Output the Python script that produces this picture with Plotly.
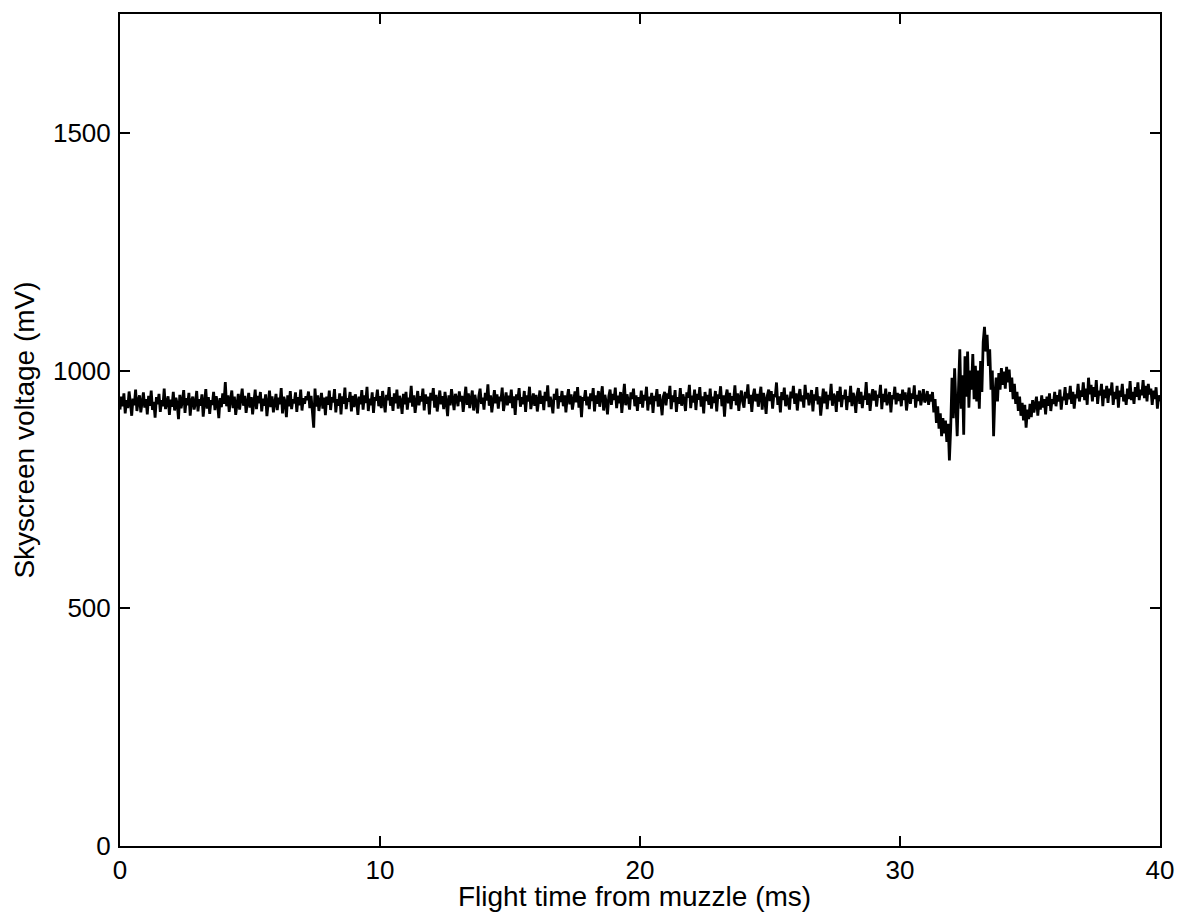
import plotly.graph_objects as go

# Sampling
t_start_ms = 0.0
dt_ms = 0.05

v_00_10 = [
    918, 945, 925, 952, 910, 938, 921, 956, 932, 905, 941, 927, 960, 915, 936, 948, 912, 930, 954, 922,
    940, 908, 947, 926, 958, 917, 934, 901, 944, 929, 951, 913, 938, 925, 962, 919, 933, 946, 907, 939,
    924, 955, 916, 943, 930, 898, 949, 921, 936, 959, 911, 942, 927, 953, 905, 937, 945, 918, 931, 957,
    914, 940, 926, 950, 903, 935, 961, 920, 944, 909, 938, 928, 955, 917, 946, 932, 900, 942, 923, 952,
    930, 976, 925, 948, 913, 939, 958, 921, 945, 907, 934, 951, 918, 940, 962, 926, 947, 911, 936, 953,
    922, 944, 908, 938, 960, 919, 947, 931, 955, 914, 941, 926, 950, 904, 937, 958, 923, 946, 912, 939,
    951, 917, 943, 929, 963, 910, 945, 934, 902, 948, 925, 957, 919, 940, 931, 954, 913, 944, 927, 960,
    916, 942, 930, 946, 938, 956, 921, 947, 909, 880, 962, 924, 948, 915, 935, 953, 920, 943, 906, 945,
    928, 958, 917, 944, 933, 961, 912, 940, 926, 952, 908, 946, 930, 964, 919, 942, 935, 955, 914, 947,
    923, 950, 936, 907, 945, 929, 959, 918, 948, 932, 966, 915, 941, 927, 954, 911, 944, 937, 960, 925,
]
v_10_20 = [
    946, 921, 957, 934, 912, 949, 938, 965, 926, 944, 915, 952, 931, 960, 920, 947, 936, 909, 951, 929,
    955, 918, 943, 933, 968, 924, 948, 911, 940, 957, 927, 946, 935, 962, 916, 950, 930, 945, 908, 953,
    937, 963, 922, 949, 914, 942, 958, 929, 946, 919, 955, 933, 904, 948, 927, 961, 938, 917, 951, 941,
    925, 956, 935, 947, 913, 944, 966, 928, 952, 921, 940, 958, 916, 949, 932, 910, 946, 962, 930, 943,
    918, 953, 937, 971, 926, 948, 912, 943, 959, 931, 950, 920, 945, 936, 964, 915, 941, 954, 927, 947,
    932, 960, 921, 946, 907, 950, 938, 963, 924, 944, 929, 957, 913, 948, 935, 966, 919, 942, 952, 926,
    949, 914, 940, 958, 930, 947, 917, 955, 936, 969, 923, 945, 931, 910, 951, 939, 962, 920, 946, 934,
    957, 925, 948, 912, 943, 961, 929, 950, 918, 941, 956, 933, 965, 922, 947, 902, 944, 937, 959, 927,
    945, 919, 952, 936, 963, 914, 948, 930, 957, 924, 941, 967, 916, 949, 933, 908, 946, 960, 928, 951,
    938, 964, 921, 947, 931, 955, 911, 943, 972, 927, 950, 936, 918, 954, 940, 962, 925, 948, 915, 944,
]
v_20_30 = [
    930, 958, 922, 949, 937, 966, 916, 945, 929, 953, 911, 947, 936, 961, 924, 950, 933, 906, 946, 955,
    927, 952, 941, 968, 919, 948, 934, 959, 913, 944, 930, 963, 926, 950, 938, 915, 954, 943, 970, 921,
    947, 933, 960, 917, 951, 939, 965, 924, 946, 910, 955, 936, 949, 928, 962, 920, 945, 932, 957, 914,
    950, 941, 967, 925, 948, 903, 944, 960, 931, 953, 919, 946, 937, 969, 927, 952, 915, 943, 958, 934,
    922, 955, 942, 971, 930, 949, 913, 947, 962, 935, 951, 924, 944, 966, 918, 953, 939, 909, 948, 960,
    936, 957, 920, 950, 944, 975, 928, 946, 912, 955, 938, 964, 925, 949, 933, 918, 956, 942, 968, 930,
    952, 916, 945, 961, 935, 948, 922, 970, 940, 953, 927, 944, 959, 914, 950, 937, 965, 929, 946, 905,
    943, 962, 931, 956, 919, 949, 938, 972, 926, 951, 944, 913, 957, 935, 966, 923, 948, 940, 960, 917,
    946, 934, 968, 925, 953, 942, 911, 950, 963, 930, 955, 921, 947, 939, 976, 928, 952, 915, 944, 961,
    937, 958, 924, 949, 943, 970, 919, 951, 934, 962, 927, 946, 955, 912, 948, 940, 966, 929, 953, 936,
]
v_30_40 = [
    951, 925, 960, 938, 954, 916, 947, 964, 930, 952, 941, 969, 922, 949, 936, 958, 927, 945, 961, 933,
    940, 957, 928, 950, 935, 955, 912, 940, 890, 925, 878, 910, 862, 900, 868, 895, 850, 888, 811, 880,
    985, 900, 1005, 930, 862, 960, 1045, 920, 990, 865, 1030, 945, 1040, 922, 1000, 960, 1035, 940, 1010, 935,
    1000, 920, 1020, 955, 1060, 1092, 1040, 1075, 1010, 1045, 960, 1000, 862, 950, 985, 935, 995, 960, 1005, 970,
    998, 962, 1008, 975, 1002, 955, 985, 940, 972, 930, 955, 915, 945, 905, 932, 895, 928, 880, 918, 898,
    930, 902, 938, 912, 925, 945, 905, 935, 918, 948, 922, 940, 908, 945, 926, 952, 915, 940, 930, 955,
    925, 948, 935, 960, 918, 945, 938, 965, 928, 952, 940, 968, 930, 955, 920, 950, 942, 972, 935, 958,
    945, 975, 938, 962, 928, 985, 950, 970, 935, 965, 945, 980, 930, 958, 948, 972, 925, 960, 942, 968,
    932, 962, 948, 975, 928, 955, 940, 968, 922, 958, 945, 972, 935, 950, 928, 962, 940, 978, 938, 955,
    930, 965, 945, 975, 938, 960, 948, 980, 942, 968, 935, 972, 950, 962, 928, 958, 940, 965, 920, 948,
    935,
]

voltage = v_00_10 + v_10_20 + v_20_30 + v_30_40
time_ms = [t_start_ms + i * dt_ms for i in range(len(voltage))]

x_ticks = [0, 10, 20, 30, 40]
y_ticks = [0, 500, 1000, 1500]

fig = go.Figure()
fig.add_trace(go.Scatter(
    x=time_ms, y=voltage, mode="lines",
    line=dict(color="black", width=2.8),
    showlegend=False,
))

font_family = "Liberation Sans, Arial, Helvetica, sans-serif"

# The page body has an 8px default margin, so the figure is sized to fit inside it.
fig.update_layout(
    width=1180, height=904,
    margin=dict(l=112, r=28, t=6, b=66),
    paper_bgcolor="white", plot_bgcolor="white",
    font=dict(family=font_family, size=26, color="black"),
)
fig.update_xaxes(
    range=[0, 40], tickvals=x_ticks, ticktext=[str(v) for v in x_ticks],
    showgrid=False, zeroline=False, automargin=False,
    showline=True, linecolor="black", linewidth=2, mirror="ticks",
    ticks="inside", ticklen=10, tickwidth=2, tickcolor="black",
    tickfont=dict(size=26), ticklabelstandoff=0,
)
fig.update_yaxes(
    range=[0, 1750], tickvals=y_ticks, ticktext=[str(v) for v in y_ticks],
    showgrid=False, zeroline=False, automargin=False,
    showline=True, linecolor="black", linewidth=2, mirror="ticks",
    ticks="inside", ticklen=10, tickwidth=2, tickcolor="black",
    tickfont=dict(size=26), ticklabelstandoff=2,
    title=dict(text="Skyscreen voltage (mV)", font=dict(size=28), standoff=10),
)
fig.add_annotation(
    text="Flight time from muzzle (ms)", xref="x", yref="paper",
    x=19.8, y=0, yanchor="middle", yshift=-50, showarrow=False,
    font=dict(size=28, color="black"),
)

fig.write_html("out.html")
